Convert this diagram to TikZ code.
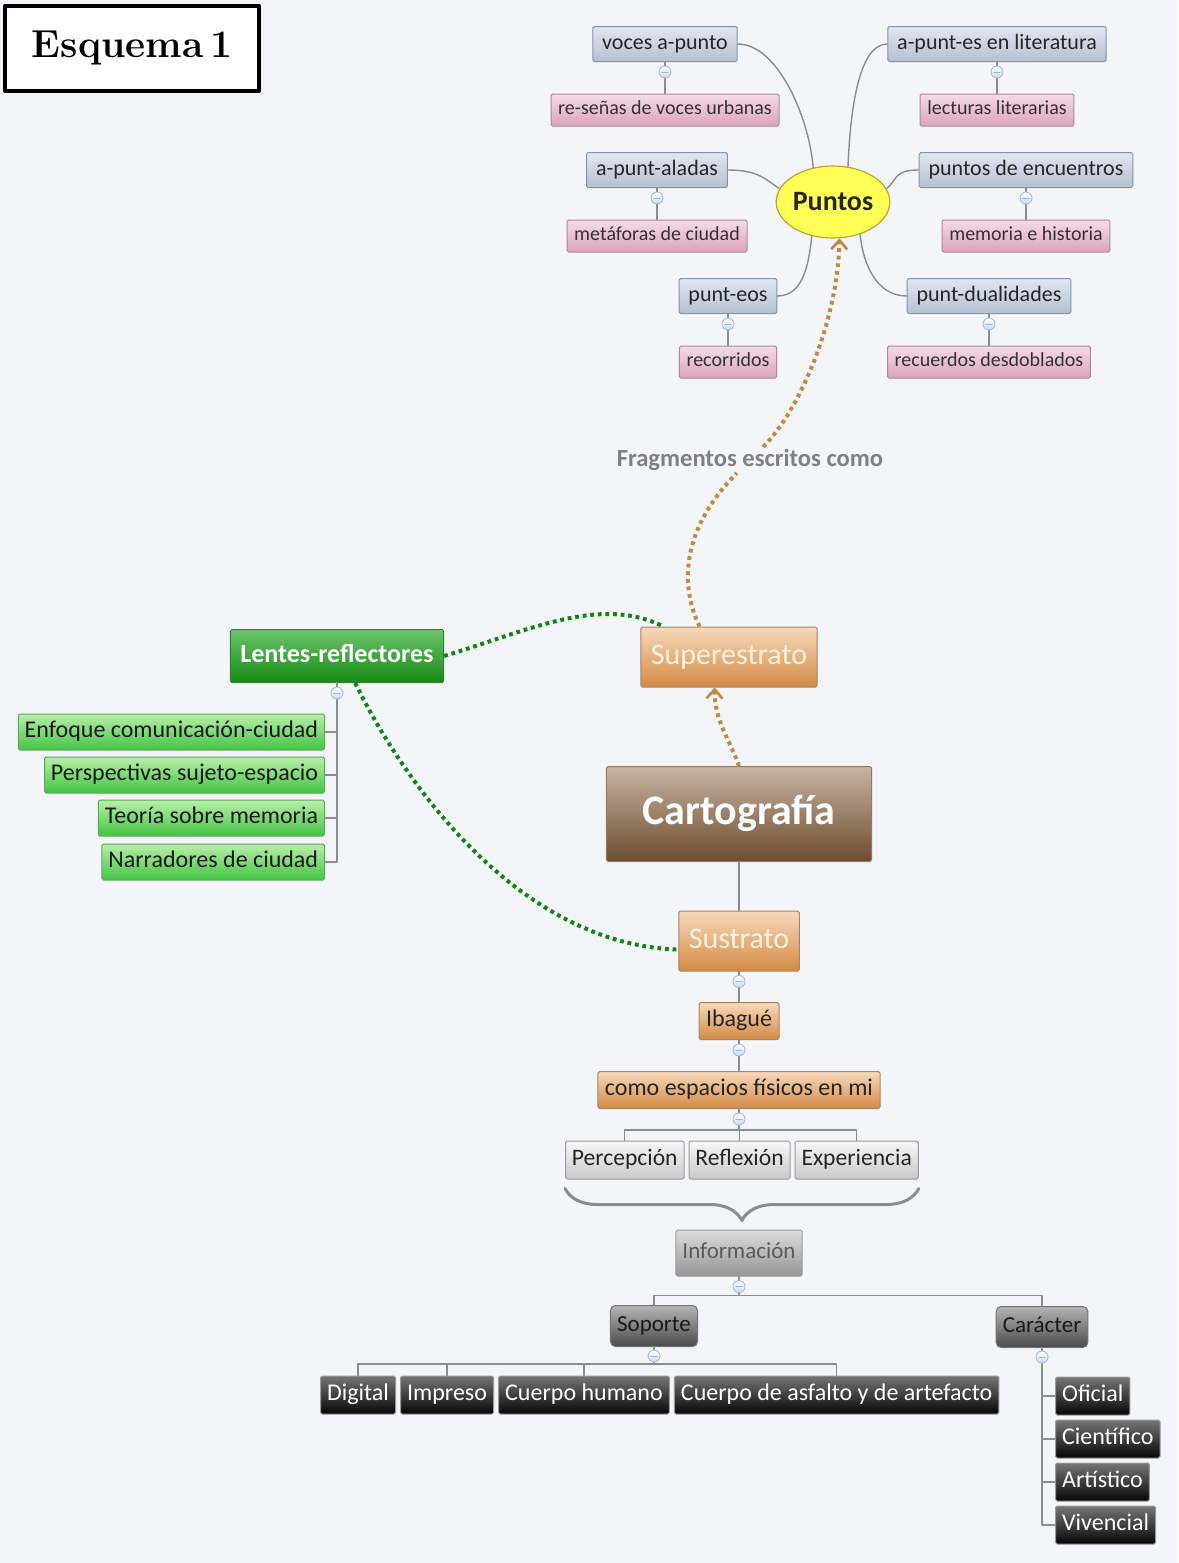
\documentclass[tikz,border=0pt]{standalone}
\usepackage{fontspec}
\setmainfont{Carlito}
\newfontfamily\titlefont{Latin Modern Roman}
\usetikzlibrary{shapes.geometric, arrows.meta, decorations.pathreplacing, calc, positioning}

% colores
\definecolor{bgcol}{HTML}{F3F5F8}
\definecolor{linkcol}{HTML}{8C8C8C}
\definecolor{topicT}{HTML}{E1E7EF}
\definecolor{topicB}{HTML}{B4C1D2}
\definecolor{topicL}{HTML}{8593A8}
\definecolor{pinkT}{HTML}{F5DBE6}
\definecolor{pinkB}{HTML}{DCA3BE}
\definecolor{pinkL}{HTML}{A88A98}
\definecolor{puntoF}{HTML}{FFFF55}
\definecolor{puntoL}{HTML}{B8A830}
\definecolor{oraT}{HTML}{F7D9BB}
\definecolor{oraB}{HTML}{D48A45}
\definecolor{oraL}{HTML}{A88466}
\definecolor{oraTx}{HTML}{FFF3DD}
\definecolor{cartT}{HTML}{C7B4A2}
\definecolor{cartB}{HTML}{6D4C2E}
\definecolor{cartL}{HTML}{8C7C6C}
\definecolor{lenT}{HTML}{6CC46C}
\definecolor{lenB}{HTML}{148A14}
\definecolor{lenL}{HTML}{3C7A3C}
\definecolor{verT}{HTML}{B8F0A8}
\definecolor{verB}{HTML}{44C444}
\definecolor{verL}{HTML}{5EA85E}
\definecolor{greyT}{HTML}{F7F7F7}
\definecolor{greyB}{HTML}{CACACA}
\definecolor{greyL}{HTML}{9A9A9A}
\definecolor{infoT}{HTML}{DCDCDC}
\definecolor{infoB}{HTML}{959595}
\definecolor{infoTx}{HTML}{5A5A5A}
\definecolor{darkT}{HTML}{B5B5B5}
\definecolor{darkB}{HTML}{4A4A4A}
\definecolor{leafT}{HTML}{767676}
\definecolor{leafB}{HTML}{050505}
\definecolor{foldF}{HTML}{C9DAF0}
\definecolor{foldL}{HTML}{9DB6D8}
\definecolor{cafe}{HTML}{C08A40}
\definecolor{verde}{HTML}{128412}

\tikzset{
  fsz/.style={font=\fontsize{#1}{#1}\selectfont, text height=0.7*#1pt, text depth=0.22*#1pt},
  box/.style={rectangle, draw, rounded corners=0.8pt, line width=0.5pt, inner ysep=0pt, inner xsep=3.3pt},
  topic/.style={box, top color=topicT, bottom color=topicB, draw=topicL, fsz=11, minimum height=17.5pt, inner xsep=4.7pt, text=black!85},
  subtopic/.style={box, top color=pinkT, bottom color=pinkB, draw=pinkL, fsz=10, minimum height=16pt, inner xsep=3.6pt, text=black!80},
  orange/.style={box, top color=oraT, bottom color=oraB, draw=oraL, fsz=15, minimum height=30pt, inner xsep=5pt, text=oraTx},
  orangesmall/.style={box, top color=oraT, bottom color=oraB, draw=oraL, fsz=12, minimum height=18.5pt, inner xsep=3.5pt, text=black!85},
  cart/.style={box, top color=cartT, bottom color=cartB, draw=cartL, fsz=21, font=\fontsize{21}{21}\selectfont\bfseries, minimum height=47.5pt, inner xsep=18pt, text=white},
  lentes/.style={box, top color=lenT, bottom color=lenB, draw=lenL, fsz=13, font=\fontsize{13}{13}\selectfont\bfseries, minimum height=26.5pt, inner xsep=5pt, text=white},
  lente/.style={box, top color=verT, bottom color=verB, draw=verL, fsz=12, minimum height=18pt, inner xsep=3.2pt, text=black!90},
  lightgray/.style={box, top color=greyT, bottom color=greyB, draw=greyL, fsz=11.8, minimum height=19pt, inner xsep=3.2pt, text=black!85},
  midgray/.style={box, top color=infoT, bottom color=infoB, draw=greyL, fsz=11.5, minimum height=23pt, inner xsep=3.3pt, text=infoTx},
  darkgray/.style={box, rounded corners=2.5pt, top color=darkT, bottom color=darkB, draw=black!55, fsz=11.5, minimum height=20.5pt, inner xsep=3.3pt, text=black!90},
  leaf/.style={box, top color=leafT, bottom color=leafB, draw=black!40, fsz=12, minimum height=19pt, inner xsep=3.3pt, text=white},
  link/.style={draw=linkcol, line width=0.7pt},
  fold/.style={circle, draw=foldL, line width=0.4pt, top color=white, bottom color=foldF, minimum size=6pt, inner sep=0pt,
    path picture={\draw[foldL, line width=0.5pt] ([xshift=-1.6pt]path picture bounding box.center) -- ([xshift=1.6pt]path picture bounding box.center);}},
  cafepath/.style={draw=cafe, line width=2pt, line cap=butt, dash pattern=on 1.9pt off 1.9pt},
  verdepath/.style={draw=verde, line width=2pt, line cap=butt, dash pattern=on 1.9pt off 1.9pt},
  tip/.style={-{Straight Barb[length=4.5pt, width=8pt, line width=1.3pt]}},
}

\begin{document}
\begin{tikzpicture}[x=0.5pt, y=0.5pt, line join=round, line cap=round]

  % fondo
  \fill[bgcol] (0,0) rectangle (1178,-1563);
  \useasboundingbox (0,0) rectangle (1178,-1563);

  % ==========================================
  % TITULO
  % ==========================================
  \node[draw, line width=2pt, fill=white, minimum width=127pt, minimum height=42.5pt,
        font=\titlefont\bfseries\fontsize{19.5}{22}\selectfont] (titulo) at (132,-48) {Esquema\,1};

  % ==========================================
  % 1. PUNTOS (arriba)
  % ==========================================
  \node[ellipse, draw=puntoL, line width=0.6pt, fill=puntoF, minimum width=54pt, minimum height=36pt, inner sep=0pt,
        font=\fontsize{14}{14}\selectfont\bfseries, text=black!85] (puntos) at (833,-202) {Puntos};

  % temas azules con su hijo rosado
  \foreach \nm/\px/\py/\tp/\sb in {voces/665/44/voces a-punto/re-señas de voces urbanas,
      aladas/657/170/a-punt-aladas/metáforas de ciudad,
      eos/728/296/punt-eos/recorridos,
      literatura/997/44/a-punt-es en literatura/lecturas literarias,
      encuentros/1026/170/puntos de encuentros/memoria e historia,
      dualidades/989/296/punt-dualidades/recuerdos desdoblados} {
    \node[topic] (\nm) at (\px,-\py) {\tp};
    \node[subtopic] (\nm-sub) at (\px,-\py-66) {\sb};
    \draw[link] (\nm) -- (\nm-sub);
    \node[fold] at ($(\nm.south)+(0,-10)$) {};
  }

  % ramas curvas hacia Puntos
  \draw[link] (voces.east) .. controls +(40,0) and +(-4,50) .. (puntos.120);
  \draw[link] (literatura.west) .. controls +(-30,0) and +(2,50) .. (puntos.67);
  \draw[link] (aladas.east) .. controls +(30,0) and +(-15,10) .. (puntos.166);
  \draw[link] (encuentros.west) .. controls +(-25,0) and +(12,10) .. (puntos.14);
  \draw[link] (eos.east) .. controls +(25,0) and +(-3,-30) .. (puntos.238);
  \draw[link] (dualidades.west) .. controls +(-30,0) and +(3,-30) .. (puntos.310);

  % ==========================================
  % 2. EJE CENTRAL
  % ==========================================
  \node[orange] (super) at (729,-657) {Superestrato};
  \node[cart] (cart) at (739,-814) {Cartografía};
  \node[orange] (sustrato) at (739,-941) {Sustrato};
  \draw[link] (cart) -- (sustrato);

  % flechas punteadas cafe
  \node[fill=bgcol, inner sep=1pt, font=\fontsize{12.3}{13}\selectfont\bfseries, text=black!50] (frag) at (750,-460) {Fragmentos escritos como};
  \draw[cafepath] (super.134) .. controls (675,-575) and (690,-520) .. (frag);
  \draw[cafepath, tip] (frag) .. controls (800,-410) and (838,-320) .. (puntos.280);
  \draw[cafepath, tip] (cart.north) .. controls (730,-740) and (714,-720) .. (super.245);

  % ==========================================
  % 3. LENTES-REFLECTORES (izquierda)
  % ==========================================
  \node[lentes] (lentes) at (337,-656) {Lentes-reflectores};
  \foreach \nm/\py/\t in {enfoque/732/Enfoque comunicación-ciudad,
      perspectivas/775/Perspectivas sujeto-espacio,
      teoria/818/Teoría sobre memoria,
      narradores/862/Narradores de ciudad} {
    \node[lente, anchor=east] (\nm) at (325,-\py) {\t};
    \draw[link] (lentes.south) |- (\nm.east);
  }
  \node[fold] at ($(lentes.south)+(0,-10)$) {};

  % enlaces punteados verdes
  \draw[verdepath] (lentes.east) .. controls (530,-630) and (600,-595) .. (super.155);
  \draw[verdepath] (lentes.304) .. controls (405,-785) and (520,-945) .. (sustrato.188);

  % ==========================================
  % 4. SUSTRATO hacia abajo
  % ==========================================
  \node[orangesmall] (ibague) at (739,-1021) {Ibagué};
  \node[orangesmall] (como) at (739,-1090) {como espacios físicos en mi};
  \draw[link] (sustrato) -- (ibague);
  \draw[link] (ibague) -- (como);

  \node[lightgray, anchor=west] (percep) at (565,-1160) {Percepción};
  \node[lightgray, right=2pt of percep] (reflex) {Reflexión};
  \node[lightgray, right=2pt of reflex] (exper) {Experiencia};
  \foreach \nm in {percep, reflex, exper} {
    \draw[link] (como.south) -- ++(0,-21) -| (\nm.north);
  }
  \foreach \nm in {sustrato, ibague, como} {
    \node[fold] at ($(\nm.south)+(0,-10)$) {};
  }

  % llave
  \draw[draw=black!45, line width=1.5pt, decorate, decoration={brace, mirror, amplitude=16pt}]
    ($(percep.south west)+(0,-9)$) -- ($(exper.south east)+(0,-9)$);

  % Informacion
  \node[midgray] (info) at (739,-1253) {Información};
  \node[darkgray] (soporte) at (654,-1326) {Soporte};
  \node[darkgray] (caracter) at (1042,-1327) {Carácter};
  \foreach \nm in {soporte, caracter} {
    \draw[link] (info.south) -- ++(0,-19) -| (\nm.north);
  }
  \node[fold] at ($(info.south)+(0,-10)$) {};

  % hojas de Soporte
  \node[leaf, anchor=west] (digital) at (320,-1395) {Digital};
  \node[leaf, right=2pt of digital] (impreso) {Impreso};
  \node[leaf, right=2pt of impreso] (humano) {Cuerpo humano};
  \node[leaf, right=2pt of humano] (asfalto) {Cuerpo de asfalto y de artefacto};
  \foreach \nm in {digital, impreso, humano, asfalto} {
    \draw[link] (soporte.south) -- ++(0,-17) -| (\nm.north);
  }
  \node[fold] at ($(soporte.south)+(0,-9)$) {};

  % hojas de Caracter
  \foreach \nm/\py/\t in {oficial/1396/Oficial, cientifico/1439/Científico, artistico/1482/Artístico, vivencial/1525/Vivencial} {
    \node[leaf, anchor=west] (\nm) at (1055,-\py) {\t};
    \draw[link] (caracter.south) |- (\nm.west);
  }
  \node[fold] at ($(caracter.south)+(0,-9)$) {};

\end{tikzpicture}
\end{document}
